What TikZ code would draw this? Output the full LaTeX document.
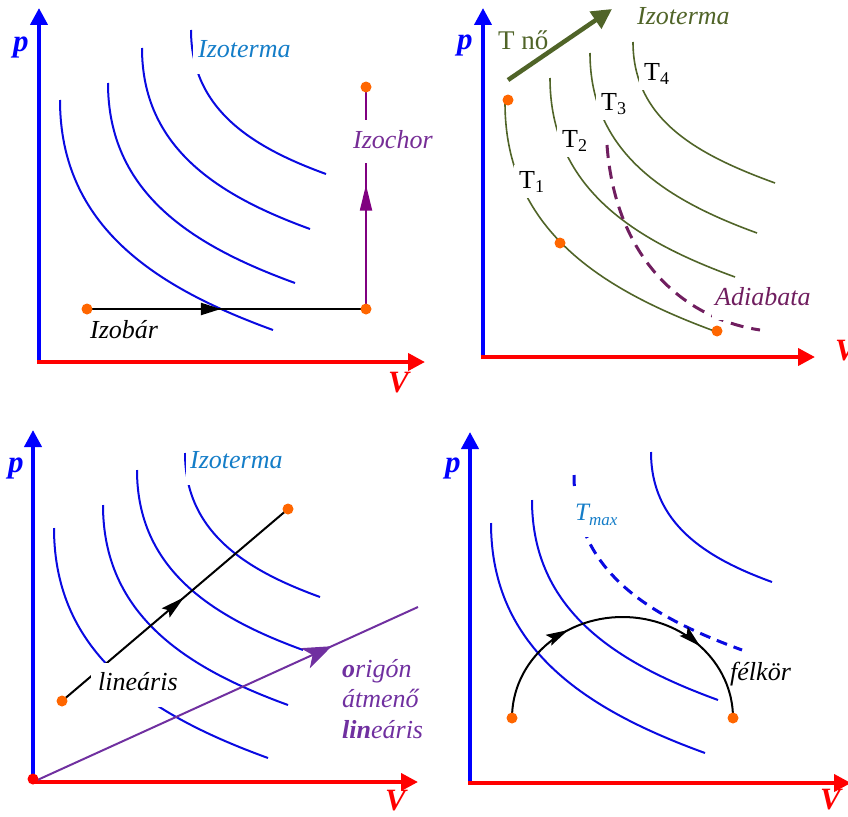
\documentclass[tikz,border=0pt]{standalone}
\usepackage{fontspec}
\setmainfont{Liberation Serif}
\usetikzlibrary{arrows.meta,decorations.markings}
\definecolor{axblue}{RGB}{0,0,255}
\definecolor{axred}{RGB}{255,0,0}
\definecolor{isoblue}{RGB}{10,10,225}
\definecolor{lblblue}{RGB}{20,125,200}
\definecolor{olivec}{RGB}{80,100,40}
\definecolor{adiac}{RGB}{112,30,95}
\definecolor{chorc}{RGB}{128,0,128}
\definecolor{chorlbl}{RGB}{118,45,150}
\definecolor{linpurple}{RGB}{112,48,160}
\definecolor{dotorange}{RGB}{255,102,0}
\newcommand{\isocurve}[5][]{\draw[#1] (#2,#3) .. controls (#2,{#3+0.55*(#5-#3)}) and ({#4-0.55*(#4-#2)},{#5-0.2*(#4-#2)}) .. (#4,#5);}
\newcommand{\tsub}[1]{\raisebox{-4pt}{\fontsize{18}{18}\selectfont #1}}
\tikzset{
  axisline/.style={line width=4pt,-{Triangle[length=17pt,width=17pt]}},
  iso/.style={isoblue,line width=2pt},
  oliso/.style={olivec,line width=1.6pt},
  dot/.style={circle,fill=dotorange,inner sep=0pt,minimum size=11pt},
  lbl/.style={font=\fontsize{26}{30}\selectfont\itshape,inner sep=0pt,anchor=base west},
  axlbl/.style={font=\fontsize{31}{34}\selectfont\bfseries\itshape,inner sep=0pt,anchor=base west},
  tlbl/.style={font=\fontsize{26}{30}\selectfont,fill=white,inner xsep=5pt,inner ysep=6pt,anchor=base west},
  markarrow/.style 2 args={decoration={markings,mark=at position #1 with {\arrow{#2}}},postaction={decorate}},
}
\begin{document}
\begin{tikzpicture}[x=1pt,y=-1pt]
\useasboundingbox (0,0) rectangle (848,816);
% ================= Top-left =================
\coordinate (o1) at (39,362);
\coordinate (o1b) at (37,362);
\coordinate (p1) at (39,8);
\coordinate (v1) at (425,362);
\draw[axisline,axblue] (39,364) -- (p1);
\draw[axisline,axred] (o1b) -- (v1);
\isocurve[iso]{60}{100}{273}{330}
\isocurve[iso]{108}{83}{295}{283}
\isocurve[iso]{142}{48}{310}{229}
\isocurve[iso]{191}{30}{326}{174}
\coordinate (ib1) at (87,309);
\coordinate (ib2) at (366,309);
\coordinate (ic2) at (366,87);
\draw[black,line width=2pt,markarrow={0.48}{Triangle[length=20pt,width=12pt]}] (ib1) -- (ib2);
\draw[chorc,line width=2pt,markarrow={0.56}{Triangle[length=26pt,width=12pt]}] (ib2) -- (ic2);
\node[lbl,text=chorlbl,fill=white,inner xsep=4pt,text height=28pt,text depth=15pt] (izochor) at (349,148) {Izochor};
\node[lbl] (izobar) at (90,338) {Izobár};
\node[lbl,text=lblblue,fill=white,inner xsep=5pt,text height=22pt,text depth=16pt] (izo1) at (193,58) {Izoterma};
\node[dot] (d1) at (ib1) {};
\node[dot] (d2) at (ib2) {};
\node[dot] (d3) at (ic2) {};
\node[axlbl,text=axblue] (plbl1) at (13,52) {p};
\node[axlbl,text=axred] (vlbl1) at (388,392) {V};
% ================= Top-right =================
\coordinate (p2) at (483,8);
\coordinate (v2) at (815,357);
\draw[axisline,axblue] (483,359) -- (p2);
\draw[axisline,axred] (481,357) -- (v2);
\isocurve[oliso]{505}{103}{717}{332}
\isocurve[oliso]{550}{78}{735}{277}
\isocurve[oliso]{590}{53}{757}{233}
\isocurve[oliso]{633}{42}{775}{183}
\coordinate (ad1) at (607,145);
\coordinate (ad2) at (760,330);
\draw[adiac,line width=3pt,dash pattern=on 13pt off 8pt] (ad1) .. controls (615,255) and (680,318) .. (ad2);
\node[tlbl] (t1) at (514,188) {T\tsub{1}};
\node[tlbl] (t2) at (557,147) {T\tsub{2}};
\node[tlbl] (t3) at (596,110) {T\tsub{3}};
\node[tlbl] (t4) at (639,80) {T\tsub{4}};
\node[lbl,text=adiac,fill=white,inner xsep=3pt,text height=20pt,text depth=15pt] (adiab) at (712,305) {Adiabata};
\coordinate (tn1) at (508,80);
\coordinate (tn2) at (612,9);
\node[lbl,font=\fontsize{27}{30}\selectfont,text=olivec] (tno) at (498,50) {T nő};
\draw[olivec,line width=4.5pt,-{Triangle[length=20pt,width=20pt]}] (tn1) -- (tn2);
\node[lbl,text=olivec] (izo2) at (637,25) {Izoterma};
\node[dot] (d4) at (508,100) {};
\node[dot] (d5) at (560,243) {};
\node[dot] (d6) at (717,331) {};
\node[axlbl,text=axblue] (plbl2) at (457,50) {p};
\node[axlbl,text=axred] (vlbl2) at (835,360) {V};
% ================= Bottom-left =================
\coordinate (p3) at (33,430);
\coordinate (v3) at (418,782);
\draw[axisline,axblue] (33,784) -- (p3);
\draw[axisline,axred] (31,782) -- (v3);
\isocurve[iso]{54}{528}{268}{758}
\isocurve[iso]{103}{505}{288}{705}
\isocurve[iso]{137}{470}{303}{650}
\isocurve[iso]{185}{453}{320}{597}
\node[lbl,text=lblblue,fill=white,inner xsep=4pt,text height=22pt,text depth=17pt] (izo3) at (186,468) {Izoterma};
\coordinate (la) at (62,701);
\coordinate (lb) at (288,509);
\draw[black,line width=2pt,markarrow={0.54}{Stealth[length=24pt,width=12pt,inset=4pt]}] (la) -- (lb);
\node[lbl,fill=white,inner xsep=7pt,text height=27pt,text depth=17pt] (linlbl) at (91,690) {lineáris};
\coordinate (orig) at (33,782);
\coordinate (pe) at (418,607);
\draw[linpurple,line width=2pt,markarrow={0.776}{Stealth[length=29pt,width=22pt,inset=8pt]}] (orig) -- (pe);
\node[dot] (d7) at (la) {};
\node[dot] (d8) at (lb) {};
\node[dot,fill=axred] (d9) at (33,779) {};
\node[lbl,text=linpurple] (ol1) at (342,677) {\textbf{o}rigón};
\node[lbl,text=linpurple] (ol2) at (342,707) {átmenő};
\node[lbl,text=linpurple] (ol3) at (342,738) {\textbf{lin}eáris};
\node[axlbl,text=axblue] (plbl3) at (8,472) {p};
\node[axlbl,text=axred] (vlbl3) at (385,810) {V};
% ================= Bottom-right =================
\coordinate (p4) at (470,432);
\coordinate (v4) at (851,783);
\draw[axisline,axblue] (470,785) -- (p4);
\draw[axisline,axred] (468,783) -- (v4);
\isocurve[iso]{491}{523}{705}{753}
\isocurve[iso]{532}{500}{718}{700}
\isocurve[iso]{651}{452}{772}{582}
\isocurve[isoblue,line width=3pt,dash pattern=on 11pt off 7pt]{574}{475}{742}{650}
\node[lbl,text=lblblue,fill=white,inner xsep=3pt,text height=28pt,text depth=17pt,font=\fontsize{25}{30}\selectfont\itshape] (tmax) at (572,520) {T\raisebox{-5pt}{\fontsize{17}{17}\selectfont max}};
\coordinate (sa) at (512,718);
\coordinate (sb) at (733,718);
\draw[black,line width=2pt,decoration={markings,
    mark=at position 0.33 with {\arrow{Stealth[length=22pt,width=12pt,inset=4pt]}},
    mark=at position 0.755 with {\arrow{Stealth[length=22pt,width=12pt,inset=4pt]}}},postaction={decorate}]
  (sa) arc[start angle=180,end angle=0,x radius=110.5pt,y radius=101pt];
\node[dot] (d10) at (sa) {};
\node[dot] (d11) at (sb) {};
\node[lbl] (felkor) at (730,680) {félkör};
\node[axlbl,text=axblue] (plbl4) at (445,472) {p};
\node[axlbl,text=axred] (vlbl4) at (820,809) {V};
\end{tikzpicture}
\end{document}
